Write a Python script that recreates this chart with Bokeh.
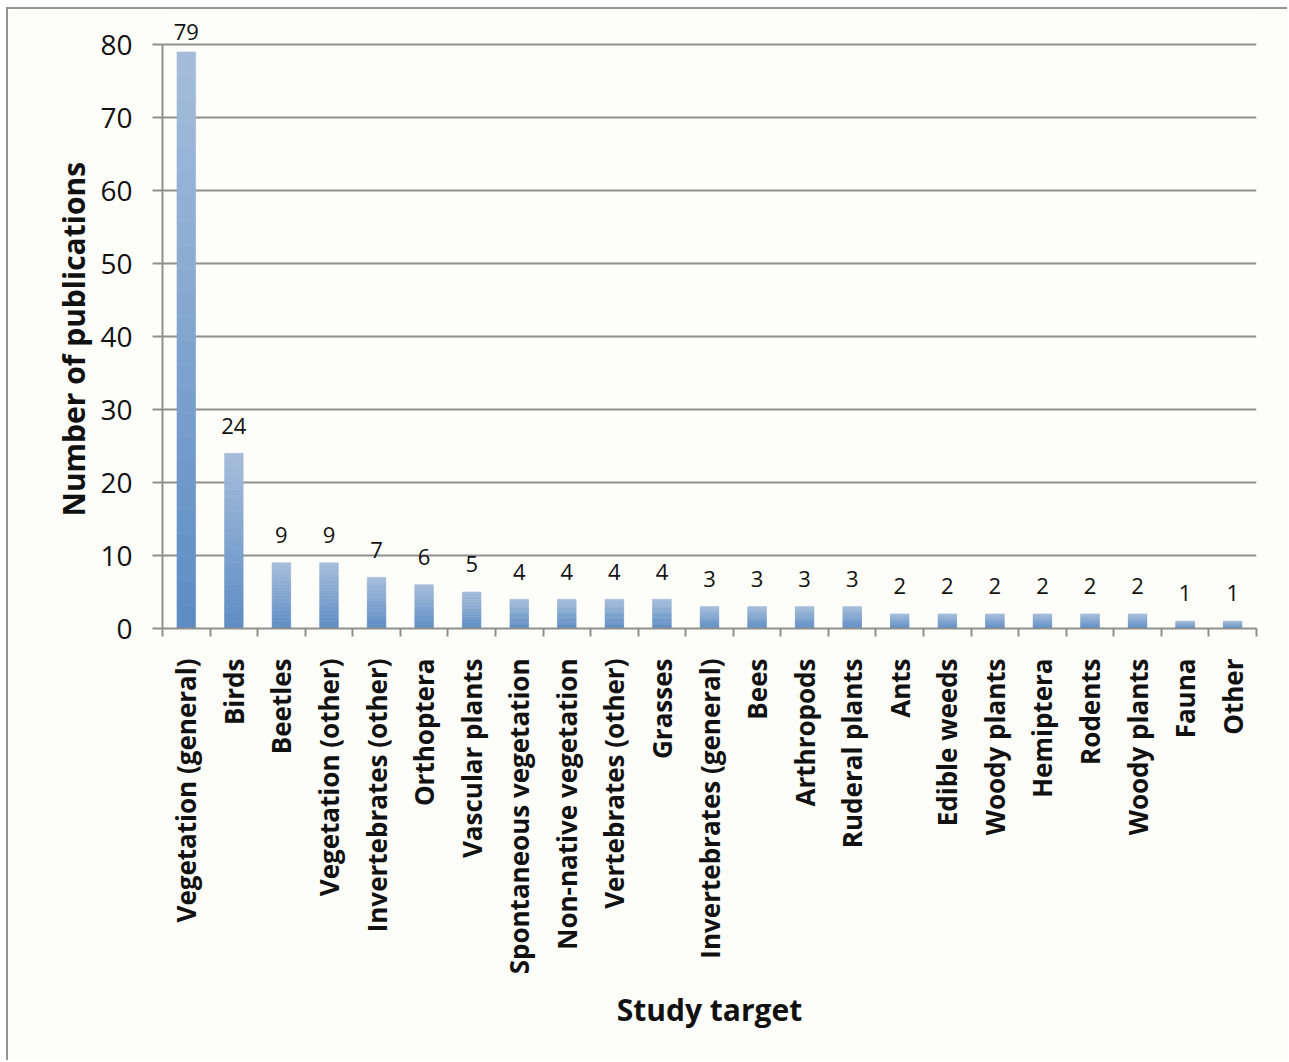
import math
import numpy as np
from bokeh.plotting import figure
from bokeh.models import Range1d, FixedTicker, ColumnDataSource, Title
from bokeh.embed import file_html
from bokeh.resources import INLINE
from bokeh.core.properties import value

# Publications per study target
categories = [
    "Vegetation (general)", "Birds", "Beetles", "Vegetation (other)",
    "Invertebrates (other)", "Orthoptera", "Vascular plants",
    "Spontaneous vegetation", "Non-native vegetation", "Vertebrates (other)",
    "Grasses", "Invertebrates (general)", "Bees", "Arthropods", "Ruderal plants",
    "Ants", "Edible weeds", "Woody plants", "Hemiptera", "Rodents",
    "Woody plants", "Fauna", "Other",
]
counts = [79, 24, 9, 9, 7, 6, 5, 4, 4, 4, 4, 3, 3, 3, 3, 2, 2, 2, 2, 2, 2, 1, 1]
y_ticks = [0, 10, 20, 30, 40, 50, 60, 70, 80]

FONT = "Open Sans"
BG = "#fdfdf9"
GRID = "#8f8f8f"
INK = "#111111"
BAR_WIDTH = 0.39
N_SLICES = 24
TOP_RGB = np.array([166, 190, 219])
BOTTOM_RGB = np.array([93, 140, 196])

n = len(categories)
centers = np.arange(n) + 0.5

p = figure(
    width=1281, height=1053,
    x_range=Range1d(0, n), y_range=Range1d(0, 84),
    output_backend="svg", toolbar_location=None,
    min_border_left=154, min_border_right=33,
    min_border_top=6, min_border_bottom=434,
    background_fill_color=BG, border_fill_color=BG,
)
p.styles = {
    "margin-left": "6px", "margin-top": "7px",
    "border-top": "2px solid #939393", "border-left": "2px solid #939393",
}
p.outline_line_color = None

# Bars with a vertical light-to-dark shading, built from stacked slices
lefts, rights, bottoms, tops, colors = [], [], [], [], []
for c, v in zip(centers, counts):
    for k in range(N_SLICES):
        t = (k + 0.5) / N_SLICES
        rgb = (BOTTOM_RGB * (1 - t) + TOP_RGB * t).astype(int)
        lefts.append(c - BAR_WIDTH / 2)
        rights.append(c + BAR_WIDTH / 2)
        bottoms.append(v * k / N_SLICES)
        tops.append(v * (k + 1) / N_SLICES)
        colors.append("#%02x%02x%02x" % tuple(rgb))
p.quad(left=lefts, right=rights, bottom=bottoms, top=tops,
       fill_color=colors, line_color=colors, line_width=0.6)

# Value labels above the bars
label_y = np.minimum(np.array(counts, dtype=float) + 2.7, 80.6)
src = ColumnDataSource(dict(x=centers, y=label_y, t=[str(v) for v in counts]))
p.text(x="x", y="y", text="t", source=src,
       text_font=value(FONT), text_font_size="22px", text_color=INK,
       text_align="center", text_baseline="bottom")

# Y axis
ya = p.yaxis[0]
ya.ticker = FixedTicker(ticks=y_ticks)
ya.bounds = (0, 80)
ya.axis_line_color = GRID
ya.axis_line_width = 2
ya.major_tick_line_color = GRID
ya.major_tick_line_width = 2
ya.major_tick_out = 10
ya.major_tick_in = 0
ya.minor_tick_line_color = None
ya.major_label_standoff = 20
ya.major_label_text_font = FONT
ya.major_label_text_font_size = "28px"
ya.major_label_text_color = INK

# Y axis title, lifted so that it sits centred on the 0-80 span
p.add_layout(Title(
    text="Number of publications", align="left", offset=112,
    text_font=FONT, text_font_size="30px", text_font_style="bold",
    text_color=INK, standoff=8,
), "left")

# X axis: names at bar centres, tick marks on the category boundaries
xa = p.xaxis[0]
xa.ticker = FixedTicker(ticks=list(centers), minor_ticks=list(range(n + 1)))
xa.major_label_overrides = {float(c): name for c, name in zip(centers, categories)}
xa.major_label_orientation = math.pi / 2
xa.axis_line_color = GRID
xa.axis_line_width = 2
xa.major_tick_line_color = None
xa.major_tick_out = 0
xa.major_tick_in = 0
xa.minor_tick_line_color = GRID
xa.minor_tick_line_width = 2
xa.minor_tick_out = 8
xa.minor_tick_in = 0
xa.major_label_standoff = 22
xa.major_label_text_font = FONT
xa.major_label_text_font_size = "26px"
xa.major_label_text_font_style = "bold"
xa.major_label_text_color = INK
xa.axis_label = "Study target"
xa.axis_label_text_font = FONT
xa.axis_label_text_font_size = "30px"
xa.axis_label_text_font_style = "bold"
xa.axis_label_text_color = INK
xa.axis_label_standoff = 12

p.xgrid.grid_line_color = None
p.ygrid.ticker = FixedTicker(ticks=y_ticks)
p.ygrid.grid_line_color = GRID
p.ygrid.grid_line_width = 2

open("out.html", "w").write(file_html(p, INLINE))
